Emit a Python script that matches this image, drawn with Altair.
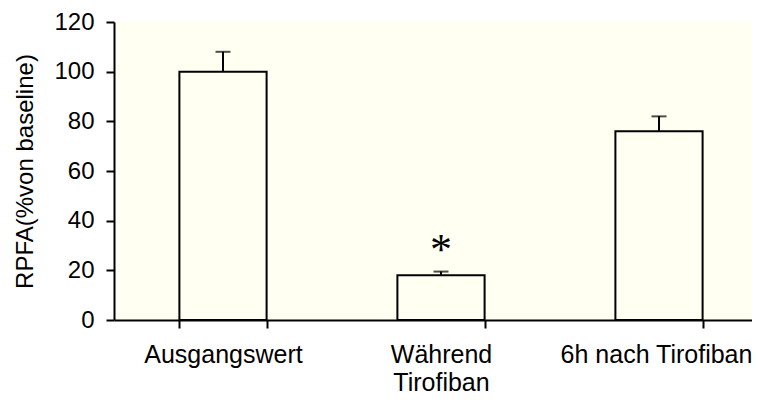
import altair as alt
import pandas as pd

categories = ["Ausgangswert", "Während\nTirofiban", "6h nach Tirofiban"]
values = [100, 18, 76]
upper = [108, 19.5, 82]
marker_text = ["*"]
marker_cat = [categories[1]]
marker_y = [30]

df = pd.DataFrame({"cat": categories, "value": values, "upper": upper})
df_star = pd.DataFrame({"cat": marker_cat, "y": marker_y, "t": marker_text})

BG = "#FFFFF2"
FONT = "Liberation Sans"

xenc = alt.X(
    "cat:N",
    sort=categories,
    scale=alt.Scale(paddingInner=0.6, paddingOuter=0.3),
    axis=alt.Axis(
        title=None,
        labelAngle=0,
        tickBand="extent",
        tickSize=8,
        tickWidth=2,
        tickColor="black",
        domainWidth=2,
        domainColor="black",
        labelFontSize=25,
        labelFont=FONT,
        labelColor="black",
        labelPadding=14,
        labelLineHeight=28,
        labelLimit=400,
        labelOffset=alt.ExprRef("datum.value == '6h nach Tirofiban' ? -3 : 0"),
        labelExpr="split(datum.label, '\\n')",
    ),
)

yscale = alt.Scale(domain=[0, 120], nice=False)
yaxis = alt.Axis(
    title="RPFA(%von baseline)",
    values=[0, 20, 40, 60, 80, 100, 120],
    grid=False,
    tickSize=8,
    tickWidth=2,
    tickColor="black",
    domainWidth=2,
    domainColor="black",
    labelFontSize=24,
    labelFont=FONT,
    labelColor="black",
    labelPadding=12,
    titleFontSize=24,
    titleFont=FONT,
    titleFontWeight="normal",
    titleColor="black",
    titlePadding=16,
)

base = alt.Chart(df)

bars = base.mark_bar(fill=BG, stroke="black", strokeWidth=2).encode(
    x=xenc,
    y=alt.Y("value:Q", scale=yscale, axis=yaxis),
)

err = base.mark_rule(color="black", strokeWidth=2).encode(
    x=alt.X("cat:N", sort=categories),
    y="value:Q",
    y2="upper:Q",
)

cap = base.mark_tick(color="black", thickness=2, size=15, orient="horizontal").encode(
    x=alt.X("cat:N", sort=categories),
    y="upper:Q",
)

star = alt.Chart(df_star).mark_text(
    fontSize=44, font="Liberation Serif", color="black", baseline="middle", dy=5
).encode(
    x=alt.X("cat:N", sort=categories),
    y="y:Q",
    text="t:N",
)

chart = (
    alt.layer(bars, err, cap, star)
    .properties(
        width=654,
        height=298,
        autosize=alt.AutoSizeParams(type="none"),
        padding={"left": 106, "top": 14, "right": -16, "bottom": 75},
        background="white",
    )
    .configure_view(fill=BG, stroke=None)
)

chart.save("out.html", embed_options={"renderer": "svg", "actions": False})
